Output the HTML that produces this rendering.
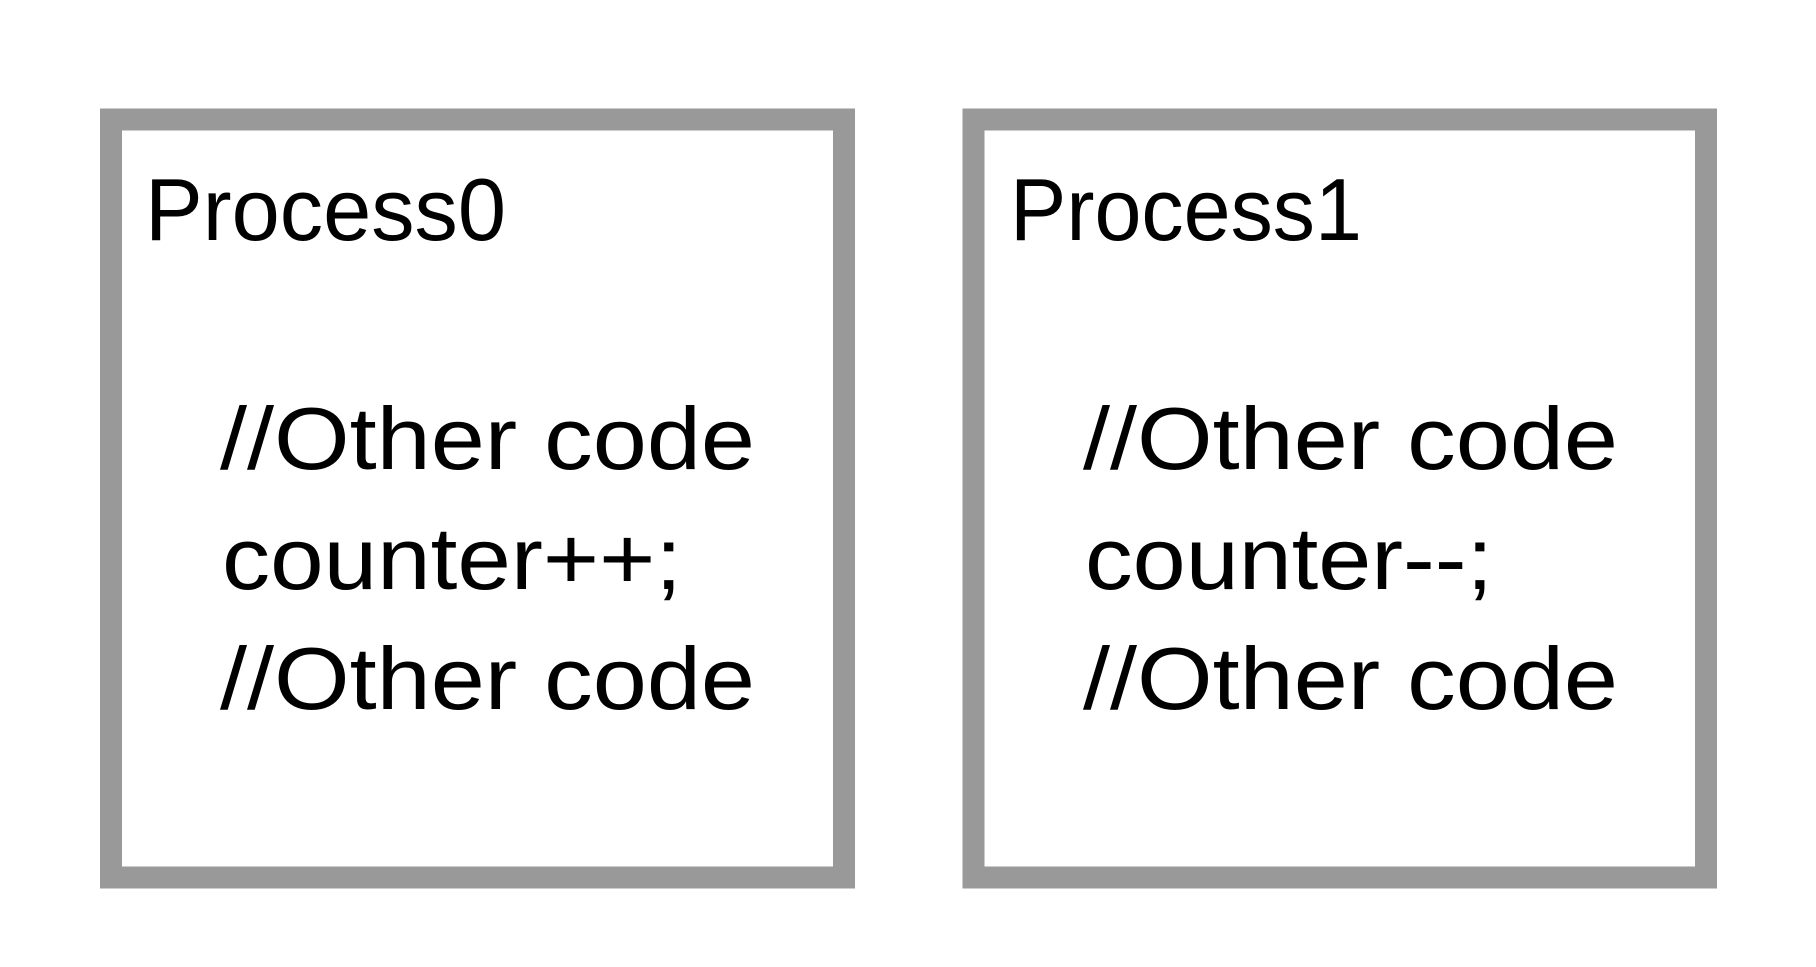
<!DOCTYPE html>
<html><head><meta charset="utf-8"><style>html,body{margin:0;padding:0;background:#fff;}svg{display:block}</style></head>
<body>
<svg width="1816" height="967" viewBox="0 0 1816 967" xmlns="http://www.w3.org/2000/svg">
<rect x="0" y="0" width="1816" height="967" fill="#fff"/>
<rect x="111" y="119.5" width="733" height="758" fill="none" stroke="#999999" stroke-width="22"/>
<rect x="973.5" y="119.5" width="732.5" height="758" fill="none" stroke="#999999" stroke-width="22"/>
<g font-family="Liberation Sans, sans-serif" font-size="88" fill="#000">
<text x="145" y="240" textLength="361" lengthAdjust="spacingAndGlyphs">Process0</text>
<text x="220" y="469" textLength="535" lengthAdjust="spacingAndGlyphs">//Other code</text>
<text x="222" y="589" textLength="460" lengthAdjust="spacingAndGlyphs">counter++;</text>
<text x="220" y="709" textLength="535" lengthAdjust="spacingAndGlyphs">//Other code</text>
<text x="1010" y="240" textLength="352" lengthAdjust="spacingAndGlyphs">Process1</text>
<text x="1083" y="469" textLength="535" lengthAdjust="spacingAndGlyphs">//Other code</text>
<text x="1085" y="589" textLength="408" lengthAdjust="spacingAndGlyphs">counter--;</text>
<text x="1083" y="709" textLength="535" lengthAdjust="spacingAndGlyphs">//Other code</text>
</g>
</svg>
</body></html>
